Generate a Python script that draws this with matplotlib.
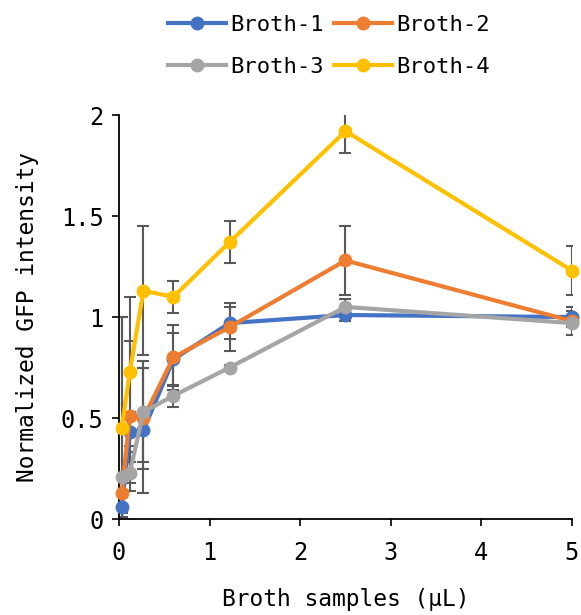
import matplotlib
matplotlib.use("Agg")
import matplotlib.pyplot as plt

# ---- data ----
x_vals = [0.03, 0.12, 0.27, 0.6, 1.22, 2.5, 5.0]
series_names = ["Broth-1", "Broth-2", "Broth-3", "Broth-4"]
broth1 = [0.06, 0.43, 0.44, 0.79, 0.97, 1.01, 1.00]
broth2 = [0.13, 0.51, 0.50, 0.80, 0.95, 1.28, 0.98]
broth3 = [0.21, 0.23, 0.53, 0.61, 0.75, 1.05, 0.97]
broth4 = [0.45, 0.73, 1.13, 1.10, 1.37, 1.92, 1.23]
err1 = [0.05, 0.10, 0.31, 0.13, 0.08, 0.03, 0.05]
err2 = [0.10, 0.37, 0.25, 0.16, 0.12, 0.17, 0.03]
err3 = [0.79, 0.05, 0.25, 0.055, 0.015, 0.04, 0.06]
err4 = [0.55, 0.37, 0.32, 0.08, 0.105, 0.11, 0.12]
x_ticks = [0, 1, 2, 3, 4, 5]
x_tick_labels = ["0", "1", "2", "3", "4", "5"]
y_ticks = [0, 0.5, 1, 1.5, 2]
y_tick_labels = ["0", "0.5", "1", "1.5", "2"]
x_label = "Broth samples (\u03bcL)"
y_label = "Normalized GFP intensity"

colors = ["#4472C4", "#ED7D31", "#A5A5A5", "#FFC000"]
values = [broth1, broth2, broth3, broth4]
errors = [err1, err2, err3, err4]

plt.rcParams['font.family'] = ['DejaVu Sans Mono', 'DejaVu Sans']

fig = plt.figure(figsize=(5.81, 6.15), dpi=100)
ax = fig.add_axes([0.2048, 0.156, 0.7797, 0.657])

handles = []
for name, vals, errs, c in zip(series_names, values, errors, colors):
    ax.errorbar(x_vals, vals, yerr=errs, fmt='none', ecolor='#595959',
                elinewidth=1.5, capsize=4, capthick=1.5, zorder=2)
    h, = ax.plot(x_vals, vals, color=c, linewidth=3, marker='o', markersize=9,
                 label=name, clip_on=False, zorder=3)
    handles.append(h)

ax.set_xlim(0, 5)
ax.set_ylim(0, 2)
ax.set_xticks(x_ticks)
ax.set_xticklabels(x_tick_labels)
ax.set_yticks(y_ticks)
ax.set_yticklabels(y_tick_labels)
ax.tick_params(axis='both', labelsize=17, direction='out', length=5, width=1.2,
               colors='black')
ax.tick_params(axis='x', pad=11)
ax.tick_params(axis='y', pad=6)
for s in ['top', 'right']:
    ax.spines[s].set_visible(False)
for s in ['left', 'bottom']:
    ax.spines[s].set_linewidth(1.3)
    ax.spines[s].set_color('black')

ax.set_xlabel(x_label, fontsize=16.5, labelpad=16)
ax.set_ylabel(y_label, fontsize=16.5, labelpad=16)

order = [0, 2, 1, 3]
leg = fig.legend([handles[i] for i in order], [series_names[i] for i in order],
                 loc='center', bbox_to_anchor=(0.566, 0.925), ncol=2,
                 frameon=False, fontsize=16, handlelength=2.6,
                 handletextpad=0.2, columnspacing=0.45, labelspacing=1.0)

fig.savefig("out.png", dpi=100)
